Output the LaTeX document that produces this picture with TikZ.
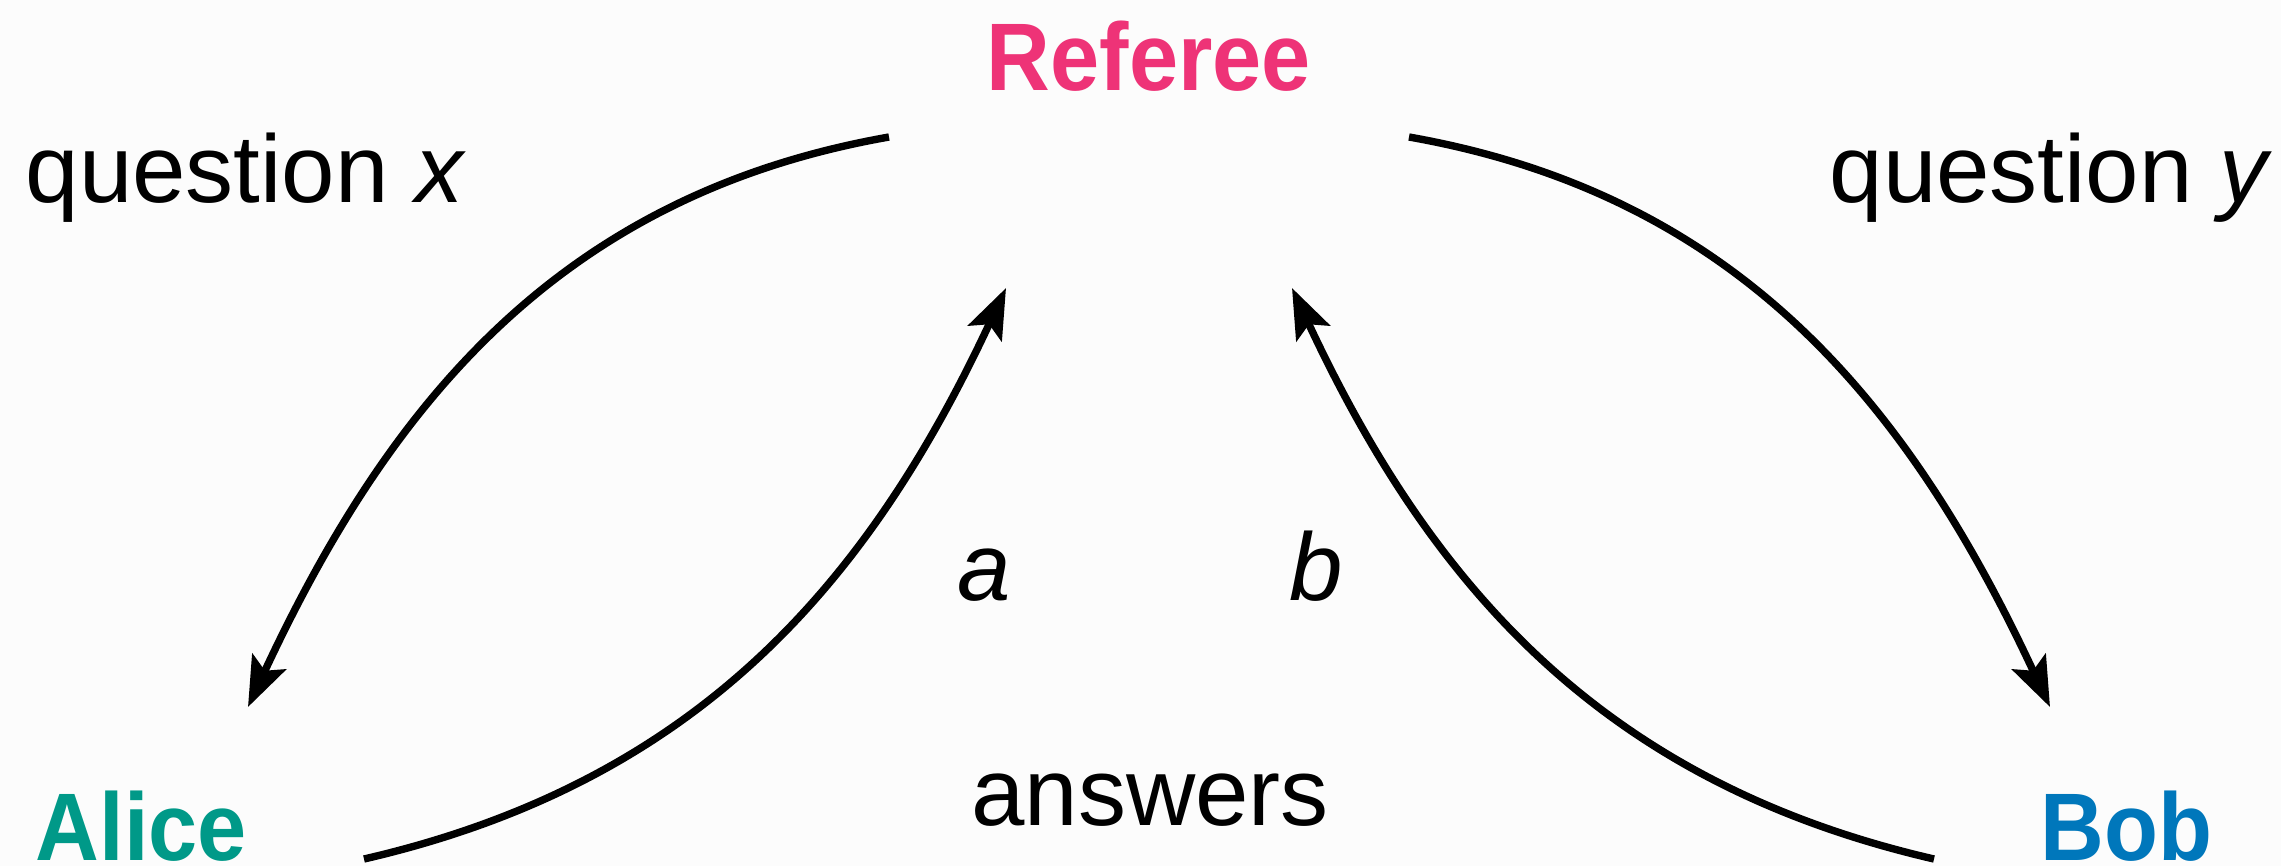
\documentclass[tikz,border=0pt]{standalone}
\usepackage{fontspec}
\setmainfont{Liberation Sans}
\newfontfamily\namefont{Liberation Sans}[FakeStretch=0.92]
\usetikzlibrary{arrows.meta}
\definecolor{refpink}{HTML}{EE3377}
\definecolor{aliceteal}{HTML}{009988}
\definecolor{bobblue}{HTML}{0077BB}
\definecolor{paper}{HTML}{FCFCFC}

\begin{document}
\begin{tikzpicture}[
  x=0.01cm,
  y=-0.01cm,
  player/.style={
    inner sep=0pt,
    font=\namefont\bfseries\fontsize{27.3}{32}\selectfont
  },
  tag/.style={
    inner sep=0pt,
    font=\fontsize{27.3}{32}\selectfont
  },
  arrow/.style={-{Stealth[length=5mm,width=3.7mm,inset=1mm]},line width=2.1pt,draw=black}
]
\fill[paper] (0,0) rectangle (2281,866);
\useasboundingbox (0,0) rectangle (2281,866);

% players
\node[player,text=refpink,anchor=base] (referee) at (1149,90) {Referee};
\node[player,text=aliceteal,anchor=base west] (alice) at (35,860) {Alice};
\node[player,text=bobblue,anchor=base east] (bob) at (2213,860) {Bob};

% labels
\node[tag,anchor=base west] (qx) at (25,202) {question \textit{x}};
\node[tag,anchor=base east] (qy) at (2273,202) {question \textit{y}};
\node[tag,anchor=base] (answers) at (1150,825) {answers};
\node[tag,anchor=base] (la) at (984,600) {\textit{a}};
\node[tag,anchor=base] (lb) at (1316,600) {\textit{b}};

% arrow ends
\coordinate (refL) at (889,137);
\coordinate (refR) at (1409,137);
\coordinate (aliceIn) at (248,707);
\coordinate (bobIn) at (2050,707);
\coordinate (aliceOut) at (364,859);
\coordinate (bobOut) at (1934,859);
\coordinate (tipA) at (1006,288);
\coordinate (tipB) at (1292,288);

\draw[arrow] (refL) to[out=190,in=65,looseness=1.0] (aliceIn);
\draw[arrow] (refR) to[out=-10,in=115,looseness=1.0] (bobIn);
\draw[arrow] (aliceOut) to[out=13,in=245,looseness=1.0] (tipA);
\draw[arrow] (bobOut) to[out=167,in=-65,looseness=1.0] (tipB);
\end{tikzpicture}
\end{document}
